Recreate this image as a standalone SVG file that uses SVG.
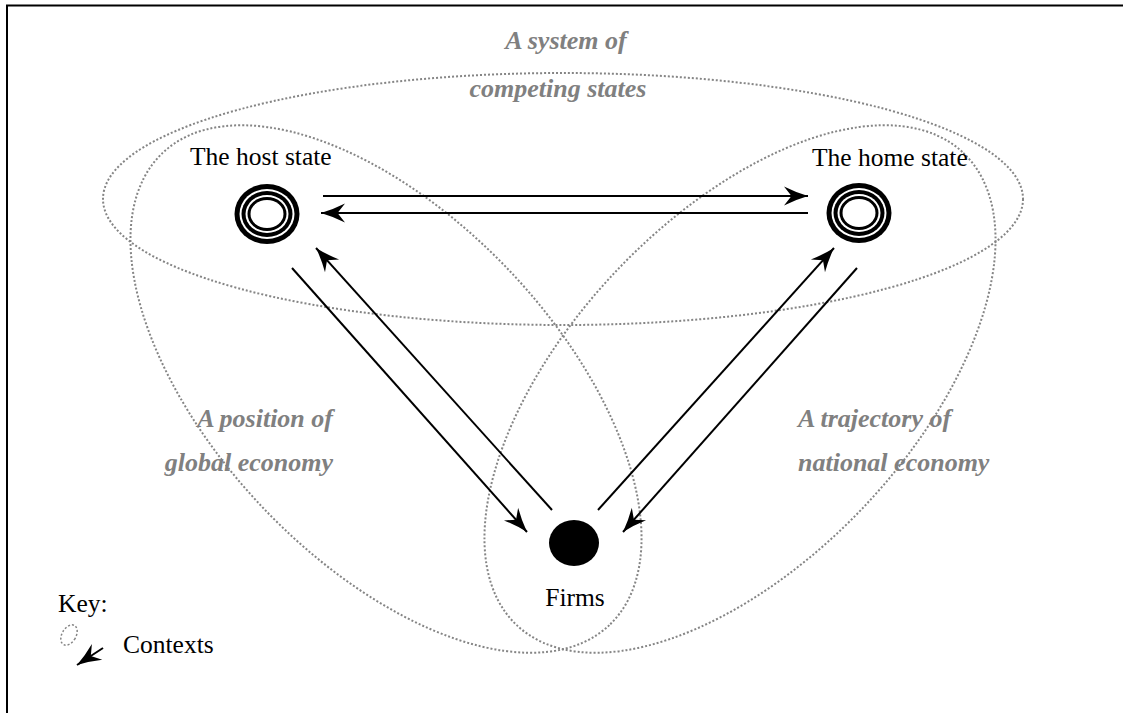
<svg xmlns="http://www.w3.org/2000/svg" width="1123" height="713" viewBox="0 0 1123 713">
  <style>
    .lbl { font-family: "Liberation Serif", "Times New Roman", serif; font-size: 25.5px; fill: #000; }
    .ctx { font-family: "Liberation Serif", "Times New Roman", serif; font-size: 26px; font-weight: bold; font-style: italic; fill: #808080; }
    .dot { fill: none; stroke: #858585; stroke-width: 2; stroke-dasharray: 2 2; }
    .arr { fill: none; stroke: #000; stroke-width: 2; marker-end: url(#head); }
  </style>
  <defs>
    <marker id="head" markerUnits="userSpaceOnUse" viewBox="-26 -11 28 22" refX="0" refY="0" markerWidth="28" markerHeight="22" orient="auto">
      <path d="M0,0 Q-12,-3.5 -24,-9.5 L-16.5,0 L-24,9.5 Q-12,3.5 0,0 Z" fill="#000"/>
    </marker>
    <g id="state">
      <ellipse rx="32.5" ry="30" fill="#000"/>
      <ellipse rx="27.5" ry="25" fill="#fff"/>
      <ellipse rx="25.5" ry="23" fill="#000"/>
      <ellipse rx="21.5" ry="19" fill="#fff"/>
      <ellipse rx="19.5" ry="17" fill="#000"/>
      <ellipse rx="16.5" ry="14" fill="#fff"/>
    </g>
  </defs>

  <rect width="1123" height="713" fill="#fff"/>
  <!-- page frame -->
  <path d="M7,713 V5.5 H1123" fill="none" stroke="#000" stroke-width="2"/>

  <!-- context regions -->
  <g id="contexts">
    <ellipse class="dot" cx="563" cy="199" rx="460" ry="126"/>
    <ellipse class="dot" cx="386" cy="389" rx="325" ry="171" transform="rotate(46.6 386 389)"/>
    <ellipse class="dot" cx="740" cy="389" rx="325" ry="171" transform="rotate(-46.6 740 389)"/>
    <text class="ctx" x="566" y="49" text-anchor="middle">A system of</text>
    <text class="ctx" x="558" y="97" text-anchor="middle">competing states</text>
    <text class="ctx" x="333" y="427" text-anchor="end">A position of</text>
    <text class="ctx" x="333" y="471" text-anchor="end">global economy</text>
    <text class="ctx" x="798" y="427">A trajectory of</text>
    <text class="ctx" x="798" y="471">national economy</text>
  </g>

  <!-- connectors -->
  <g id="connectors">
    <path class="arr" d="M323,196 H808"/>
    <path class="arr" d="M808,213 H321"/>
    <path class="arr" d="M292,268 L527,532"/>
    <path class="arr" d="M552,510 L316,248"/>
    <path class="arr" d="M598,510 L834,248"/>
    <path class="arr" d="M857,268 L623,532"/>
  </g>

  <g id="host-state">
    <use href="#state" x="267" y="214"/>
    <text class="lbl" x="190" y="165">The host state</text>
  </g>
  <g id="home-state">
    <use href="#state" x="859" y="213"/>
    <text class="lbl" x="812" y="166">The home state</text>
  </g>
  <g id="firms">
    <ellipse cx="574" cy="543" rx="25" ry="23" fill="#000"/>
    <text class="lbl" x="575" y="606" text-anchor="middle">Firms</text>
  </g>

  <g id="key">
    <text class="lbl" x="58" y="612">Key:</text>
    <ellipse class="dot" cx="69" cy="635" rx="7" ry="11" transform="rotate(30 69 635)" style="stroke-width:1.5"/>
    <path class="arr" d="M103,648 L77,665"/>
    <text class="lbl" x="123" y="653">Contexts</text>
  </g>
</svg>
